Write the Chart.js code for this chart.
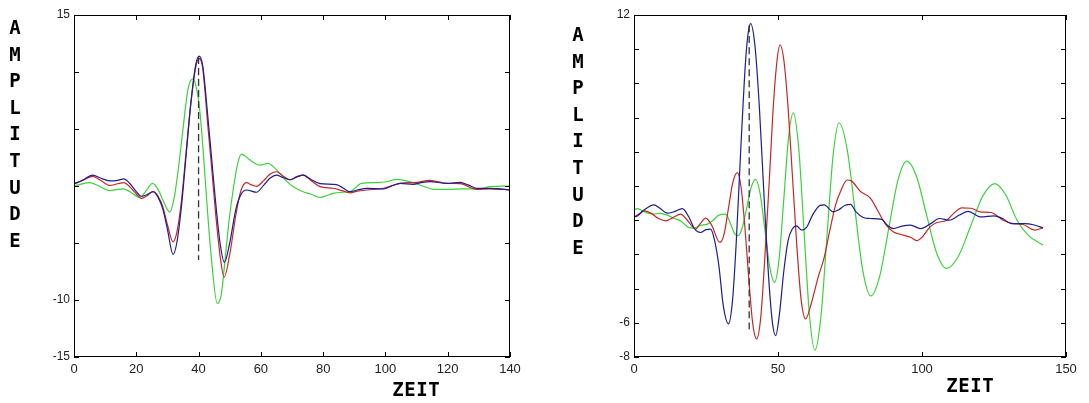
<!DOCTYPE html>
<html>
<head>
<meta charset="utf-8">
<script src="https://cdn.jsdelivr.net/npm/chart.js@4.4.1/dist/chart.umd.min.js"></script>
<style>
body { margin: 0; background: #fff; width: 1089px; height: 403px; overflow: hidden; position: relative; }
canvas { position: absolute; top: 0; }
#c1 { left: 0; }
#c2 { left: 545px; }
</style>
</head>
<body>
<canvas id="c1" width="545" height="403"></canvas>
<canvas id="c2" width="544" height="403"></canvas>
<script>
// left panel: [zeit, amplitude]
var leftBlue = [[0,0.2],[1,0.3],[3,0.55],[6,0.95],[8.5,0.7],[11.5,0.45],[14,0.5],[16,0.62],[18,0.2],[20,-0.5],[21.6,-0.9],[23.5,-0.75],[25.4,-0.5],[27,-1.0],[28.5,-2.0],[30,-3.8],[31.8,-6.0],[33,-5.0],[34.5,-1.8],[36,2.7],[37.5,7.2],[39,10.5],[40.1,11.4],[41.3,10.6],[43,6.0],[44.2,2.4],[45.5,-1.5],[47,-5.2],[48.3,-6.7],[50,-5.0],[52,-2.0],[53.5,-0.8],[55.4,-0.35],[58.6,-0.55],[61,0.1],[63,0.7],[65,0.96],[67,0.75],[69.3,0.55],[71.5,0.8],[73.6,0.96],[76,0.6],[79,0.2],[84.3,0.12],[86.5,-0.2],[88.6,-0.5],[91,-0.35],[94,-0.2],[99.4,-0.25],[102,0],[104.7,0.23],[108.9,0.15],[111.5,0.3],[114.3,0.38],[119.7,0.23],[124,0.32],[126.5,0.1],[129.3,-0.2],[133.6,-0.2],[137,-0.25],[140,-0.35]];
var leftRed = [[0,0.2],[1,0.3],[3,0.5],[6,0.85],[8.5,0.5],[11.5,0.05],[14,0.2],[16,0.3],[18,-0.1],[20,-0.7],[21.6,-1.1],[23.5,-0.85],[25.4,-0.5],[27,-0.9],[28.5,-1.8],[30,-3.4],[31.8,-4.9],[33,-4.1],[34.5,-1.3],[36,3.0],[37.5,7.2],[39,10.3],[40.1,11.2],[41.3,10.4],[43,5.2],[44.2,1.6],[45.5,-2.5],[47,-6.3],[48.2,-8.0],[50,-6.0],[52,-2.5],[53.5,-0.5],[55.4,0.29],[57,0.1],[58.6,-0.03],[61,0.5],[63,1.05],[65,1.25],[67,0.9],[69.3,0.55],[71.5,0.8],[73.6,0.96],[76,0.5],[79,-0.05],[83.2,-0.2],[86,-0.4],[88.6,-0.6],[91,-0.45],[94,-0.35],[99.4,-0.2],[104.7,0.23],[110,0.32],[114.3,0.5],[119.7,0.23],[124,0.2],[129.3,-0.3],[133.6,-0.25],[140,-0.35]];
var leftGreen = [[0,0],[2,0.15],[5,0.29],[8,0],[11.5,-0.4],[14,-0.3],[15.8,-0.26],[18,-0.5],[21.1,-1.0],[23.5,-0.3],[25.2,0.23],[27,-0.3],[28.5,-1.2],[30.75,-2.3],[32.2,-1.0],[33.5,1.5],[35,5.0],[36.6,8.5],[38.2,9.4],[39.3,8.6],[40.4,6.6],[41.5,3.0],[42.6,-1.2],[44,-6.0],[46,-10.3],[47.3,-9.5],[48.5,-6.5],[49.8,-3.0],[51.1,-0.35],[52.5,1.9],[53.8,2.8],[56,2.4],[58,2.0],[59.7,1.83],[62.3,1.98],[64,1.7],[66.1,1.1],[68,0.5],[70.4,-0.06],[73.6,-0.5],[76,-0.7],[79,-1.0],[83.2,-0.64],[86,-0.55],[88.6,-0.5],[92.3,0.23],[97,0.3],[100,0.35],[103.6,0.58],[106,0.5],[108.9,0.3],[112,0],[115.4,-0.29],[120,-0.29],[125,-0.26],[130,-0.26],[133.6,-0.06],[140,0]];
var leftMarker = [[40,11.3],[40,-6.5]];
var leftXTicks = [0, 20, 40, 60, 80, 100, 120, 140];
var leftYLabels = [15, -10, -15];

// right panel
var rightBlue = [[0,0.2],[1.2,0.25],[3.5,0.6],[6.9,0.9],[9,0.7],[11.6,0.41],[14,0.5],[16.8,0.68],[19,0.2],[21,-0.5],[23.1,-0.72],[25,-0.55],[26.6,-0.52],[28,-1.2],[29.5,-2.7],[31,-5.0],[32.8,-6.06],[34.2,-4.7],[35.5,-1.3],[37,3.9],[38.7,9.2],[39.6,10.9],[40.5,11.5],[42,10.2],[43.5,6.7],[45,1.9],[46.5,-2.7],[48,-5.9],[49.2,-6.75],[50.5,-5.5],[52,-3.0],[53.5,-1.2],[55,-0.5],[56.4,-0.33],[58.2,-0.58],[60,-0.4],[62,0.3],[64.6,0.87],[66,0.9],[69.2,0.49],[71,0.6],[73.3,0.87],[75.2,0.93],[77,0.5],[79.6,0.16],[82,0.1],[86,0.05],[88,-0.3],[90,-0.49],[93,-0.35],[96,-0.29],[99.5,-0.49],[103,-0.2],[106,0.1],[109.5,0],[113,0.3],[116,0.52],[120.5,0.19],[125,0.25],[128,0.1],[131,-0.2],[135.5,-0.2],[139,-0.28],[142,-0.45]];
var rightRed = [[0,0.2],[1.2,0.3],[3.5,0.54],[6,0.4],[8.5,0.1],[11,-0.04],[13.5,0.15],[16.2,0.35],[18.5,0],[21.4,-0.52],[23,-0.2],[24.9,0.12],[27,-0.3],[29.8,-1.3],[31.3,-0.8],[32.8,0.7],[34.3,2.2],[35.9,2.78],[37.2,1.9],[38.5,-0.4],[39.8,-3.3],[41.2,-6.0],[42.6,-6.94],[44,-5.7],[45.5,-2.0],[47,2.4],[48.5,7.0],[49.7,9.4],[50.7,10.26],[52,9.4],[53.5,6.6],[55,2.6],[56.5,-1.4],[58,-4.6],[59.6,-5.77],[61.5,-4.9],[64,-3.3],[66,-2.2],[68,-0.6],[70,0.9],[72,1.8],[74,2.35],[75.5,2.3],[78.5,1.7],[82,1.3],[84.5,0.6],[87.2,-0.2],[90,-0.68],[93.5,-0.87],[96,-1.0],[98.2,-1.2],[100,-1.0],[102.8,-0.39],[105,-0.15],[108.6,0],[111,0.4],[113.8,0.72],[117,0.7],[120.1,0.49],[124,0.45],[128.2,0],[131.7,-0.2],[135,-0.25],[139.2,-0.58],[142,-0.45]];
var rightGreen = [[0,0.6],[1.2,0.68],[3.5,0.5],[6.9,0.35],[9,0.4],[11.6,0.3],[14,0.1],[16.2,-0.04],[19.1,-0.43],[21,-0.45],[23,-0.3],[25.5,-0.23],[27.5,0],[29.5,0.3],[31.8,0.35],[33.5,-0.2],[35,-0.8],[36.1,-0.91],[37.6,-0.44],[39.15,0.74],[40.7,1.93],[42.2,2.39],[43.8,1.55],[45.5,-0.63],[47.2,-2.8],[48.8,-3.64],[50.4,-2.23],[52.05,1.32],[53.7,4.9],[55.3,6.28],[57.2,4.2],[59.05,-0.66],[60.9,-5.5],[62.8,-7.6],[64.9,-5.65],[67,-0.95],[69.1,3.75],[71.2,5.7],[74,4.16],[76.7,0.63],[79.4,-2.9],[82.2,-4.43],[85.3,-3.28],[88.45,-0.49],[91.6,2.3],[94.7,3.45],[98.15,2.53],[101.6,0.3],[105.05,-1.9],[108.5,-2.82],[112.7,-2.09],[116.9,-0.34],[121.1,1.41],[125.3,2.14],[129,1.5],[133,0],[137,-0.9],[142,-1.46]];
var rightMarker = [[40,11.4],[40,-6.6]];
var rightXTicks = [0, 50, 100, 150];
var rightYLabels = [12, -6, -8];

var yTitle = 'AMPLITUDE';
var xTitle = 'ZEIT';

function pts(arr) {
    return arr.map(function(p) { return {x: p[0], y: p[1]}; });
}

// box around the plot, inward ticks, stacked axis letters
var framePlugin = {
    id: 'frame',
    afterDraw: function(chart, args, o) {
        var ctx = chart.ctx, a = chart.chartArea;
        var xs = chart.scales.x, ys = chart.scales.y;
        ctx.save();
        ctx.strokeStyle = '#000';
        ctx.lineWidth = 1;
        ctx.strokeRect(a.left + 0.5, a.top + 0.5, a.right - a.left - 1, a.bottom - a.top - 1);
        ctx.beginPath();
        xs.ticks.forEach(function(t) {
            var x = Math.round(xs.getPixelForValue(t.value)) + 0.5;
            ctx.moveTo(x, a.bottom); ctx.lineTo(x, a.bottom - 5);
            ctx.moveTo(x, a.top); ctx.lineTo(x, a.top + 5);
        });
        ys.ticks.forEach(function(t) {
            var y = Math.round(ys.getPixelForValue(t.value)) + 0.5;
            ctx.moveTo(a.left, y); ctx.lineTo(a.left + 5, y);
            ctx.moveTo(a.right, y); ctx.lineTo(a.right - 5, y);
        });
        ctx.stroke();

        ctx.fillStyle = '#000';
        ctx.font = 'bold 19px "DejaVu Sans Mono"';
        ctx.textAlign = 'center';
        ctx.textBaseline = 'middle';
        yTitle.split('').forEach(function(ch, i) {
            ctx.fillText(ch, o.yx, o.yy + i * 26.6);
        });
        xTitle.split('').forEach(function(ch, i) {
            ctx.fillText(ch, o.xx + (i - 1.5) * 12, o.xy);
        });
        ctx.restore();
    }
};

function makeChart(id, d) {
    return new Chart(document.getElementById(id), {
        type: 'line',
        data: {
            datasets: [
                { data: pts(d.marker), borderColor: '#333', borderWidth: 1.3, borderDash: [7, 4], tension: 0 },
                { data: pts(d.blue), borderColor: 'rgb(30, 30, 140)' },
                { data: pts(d.red), borderColor: 'rgb(195, 40, 40)' },
                { data: pts(d.green), borderColor: 'rgb(60, 210, 60)' }
            ]
        },
        options: {
            responsive: false,
            animation: false,
            layout: { padding: { top: 15, right: d.padRight, left: 0, bottom: 0 } },
            elements: {
                point: { radius: 0 },
                line: { borderWidth: 1.2, cubicInterpolationMode: 'monotone', fill: false }
            },
            plugins: {
                legend: { display: false },
                tooltip: { enabled: false },
                frame: d.frame
            },
            scales: {
                x: {
                    type: 'linear',
                    min: d.xTicks[0],
                    max: d.xTicks[d.xTicks.length - 1],
                    afterBuildTicks: function(s) { s.ticks = d.xTicks.map(function(v) { return {value: v}; }); },
                    afterFit: function(s) { s.height = 46; },
                    grid: { display: false, drawTicks: false },
                    border: { display: false },
                    ticks: { padding: 5, color: '#222', font: { family: 'Liberation Sans', size: 13 }, maxRotation: 0, autoSkip: false }
                },
                y: {
                    min: d.yMin,
                    max: d.yMax,
                    afterFit: function(s) { s.width = d.yWidth; },
                    grid: { display: false, drawTicks: false },
                    border: { display: false },
                    ticks: {
                        stepSize: d.yStep,
                        autoSkip: false,
                        padding: 4,
                        color: '#222',
                        font: { family: 'Liberation Sans', size: 12 },
                        callback: function(v) { return d.yLabels.indexOf(v) >= 0 ? String(v) : ''; }
                    }
                }
            }
        },
        plugins: [framePlugin]
    });
}

makeChart('c1', {
    blue: leftBlue, red: leftRed, green: leftGreen, marker: leftMarker,
    xTicks: leftXTicks, yLabels: leftYLabels, yMin: -15, yMax: 15, yStep: 5,
    yWidth: 74, padRight: 35,
    frame: { yx: 15, yy: 29, xx: 416, xy: 391 }
});

makeChart('c2', {
    blue: rightBlue, red: rightRed, green: rightGreen, marker: rightMarker,
    xTicks: rightXTicks, yLabels: rightYLabels, yMin: -8, yMax: 12, yStep: 2,
    yWidth: 89, padRight: 23,
    frame: { yx: 33, yy: 36, xx: 425, xy: 387 }
});
</script>
</body>
</html>
